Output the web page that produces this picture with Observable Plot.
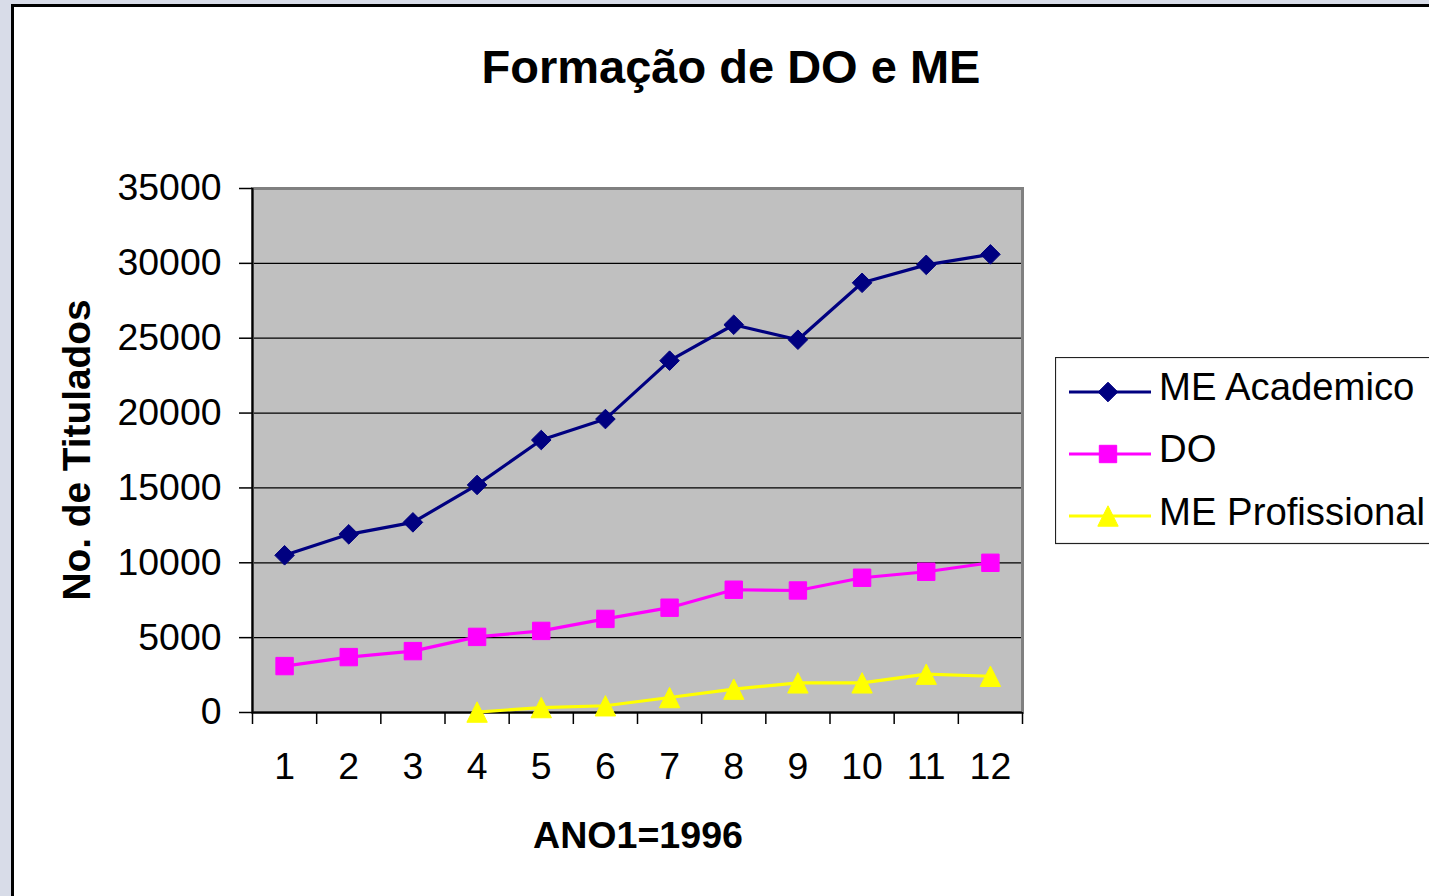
<!DOCTYPE html>
<html><head><meta charset="utf-8">
<script src="https://cdn.jsdelivr.net/npm/d3@7"></script>
<script src="https://cdn.jsdelivr.net/npm/@observablehq/plot@0.6"></script>
<style>
html,body{margin:0;padding:0;overflow:hidden;width:1429px;height:896px;background:#d8dce8;font-family:"Liberation Sans",Arial,sans-serif;}
#panel{position:absolute;left:11px;top:4px;width:1440px;height:910px;border-left:3px solid #000;border-top:3px solid #000;background:#fff;}
#chart{position:absolute;left:0;top:0;}
.t{position:absolute;white-space:nowrap;line-height:1;font-weight:bold;color:#000;}
</style></head>
<body>
<div id="panel"></div>
<div id="chart"></div>
<div class="t" style="font-size:47px;top:43px;left:731px;transform:translateX(-50%)">Formação de DO e ME</div>
<div class="t" style="font-size:38.8px;top:450px;left:77px;transform:translate(-50%,-50%) rotate(-90deg)">No. de Titulados</div>
<div class="t" style="font-size:37.6px;top:817px;left:638px;transform:translateX(-50%)">ANO1=1996</div>
<script>
// ---- data ----
const anos = [1, 2, 3, 4, 5, 6, 7, 8, 9, 10, 11, 12];
const seriesNames = ["ME Academico", "DO", "ME Profissional"];
const meAcademico = [10500, 11900, 12700, 15200, 18200, 19600, 23500, 25900, 24900, 28700, 29900, 30600];
const doutorado = [3100, 3700, 4100, 5050, 5450, 6250, 7000, 8200, 8150, 9000, 9400, 10000];
const meProfissional = [null, null, null, 30, 330, 450, 1000, 1560, 1980, 1980, 2560, 2420];
const yTicks = [0, 5000, 10000, 15000, 20000, 25000, 30000, 35000];

// ---- styles ----
const colors = ["#000080", "#ff00ff", "#ffff00"];
const diamond = {draw(c, s) { const r = Math.sqrt(s / Math.PI); c.moveTo(0, -r); c.lineTo(r, 0); c.lineTo(0, r); c.lineTo(-r, 0); c.closePath(); }};
const square = {draw(c, s) { const r = Math.sqrt(s / Math.PI); c.rect(-r, -r, 2 * r, 2 * r); }};
const triangle = {draw(c, s) { const r = Math.sqrt(s / Math.PI); c.moveTo(0, -r); c.lineTo(r, r); c.lineTo(-r, r); c.closePath(); }};
const symbols = [diamond, square, triangle];
const radii = [9.8, 8.7, 10.2];
const allValues = [meAcademico, doutorado, meProfissional];

const boundaries = d3.range(anos.length + 1).map(i => anos[0] - 0.5 + i);

const serieMarks = (vals, k) => {
  const data = anos.map((a, i) => ({ano: a, v: vals[i]})).filter(d => d.v != null);
  return [
    Plot.line(data, {x: "ano", y: "v", stroke: colors[k], strokeWidth: 3.2, strokeLinejoin: "round"}),
    Plot.dot(data, {x: "ano", y: "v", fill: colors[k], stroke: colors[k], strokeWidth: 1, symbol: symbols[k], r: radii[k]})
  ];
};

const chart = Plot.plot({
  width: 1429, height: 896,
  marginLeft: 252, marginRight: 407, marginTop: 188, marginBottom: 184,
  x: {domain: [boundaries[0], boundaries[boundaries.length - 1]]},
  y: {domain: [yTicks[0], yTicks[yTicks.length - 1]]},
  style: {background: "transparent", fontFamily: "'Liberation Sans', Arial, sans-serif", color: "#000", overflow: "visible"},
  marks: [
    Plot.frame({fill: "#c0c0c0"}),
    Plot.ruleY(yTicks.slice(1, -1), {stroke: "#000", strokeWidth: 1.2}),
    Plot.frame({stroke: "#808080", strokeWidth: 3}),
    Plot.ruleX([boundaries[0]], {stroke: "#000", strokeWidth: 2}),
    Plot.ruleY([0], {stroke: "#000", strokeWidth: 2}),
    Plot.axisY({ticks: yTicks, tickSize: 13, tickPadding: 18, fontSize: 37.4, label: null, tickFormat: d => String(d), strokeWidth: 1.5}),
    Plot.axisX({ticks: boundaries, tickSize: 12, tickFormat: () => "", label: null, strokeWidth: 1.5}),
    Plot.axisX({ticks: anos, tickSize: 0, tickPadding: 40, fontSize: 37.4, label: null, tickFormat: d => String(d)}),
    ...allValues.flatMap((v, k) => serieMarks(v, k))
  ]
});
document.getElementById("chart").appendChild(chart);

// ---- legend ----
const leg = d3.select("body").append("svg")
  .attr("width", 374).attr("height", 188)
  .style("position", "absolute").style("left", "1055px").style("top", "357px");
leg.append("rect").attr("x", 0.5).attr("y", 0.5).attr("width", 420).attr("height", 186)
  .attr("fill", "#fff").attr("stroke", "#222").attr("stroke-width", 1.2);
const rowY = [35, 97, 159];
const textY = [43, 105, 168];
seriesNames.forEach((name, k) => {
  leg.append("line").attr("x1", 14).attr("x2", 96).attr("y1", rowY[k]).attr("y2", rowY[k])
    .attr("stroke", colors[k]).attr("stroke-width", 3);
  leg.append("path").attr("transform", `translate(53,${rowY[k]})`)
    .attr("d", d3.symbol(symbols[k], radii[k] * radii[k] * Math.PI)())
    .attr("fill", colors[k]).attr("stroke", colors[k]).attr("stroke-width", 1);
  leg.append("text").attr("x", 104).attr("y", textY[k]).text(name)
    .attr("font-size", 38.3).attr("font-family", "'Liberation Sans', Arial, sans-serif").attr("fill", "#000");
});
</script>
</body></html>
